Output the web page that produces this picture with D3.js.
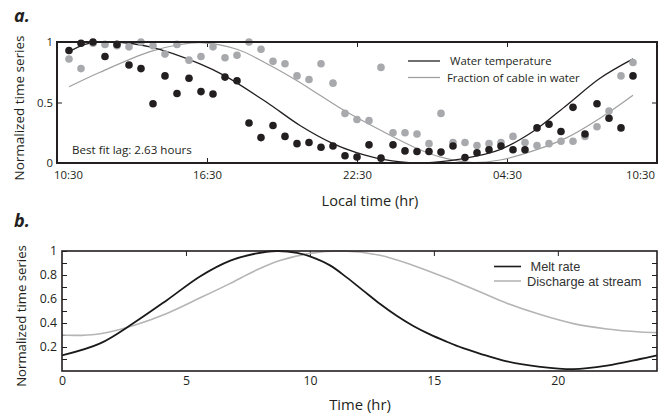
<!DOCTYPE html>
<html>
<head>
<meta charset="utf-8">
<script src="https://cdn.jsdelivr.net/npm/d3@7"></script>
<style>
  body { margin: 0; background: #fff; }
  svg { display: block; font-family: "Open Sans", sans-serif; }
</style>
</head>
<body>
<svg id="fig" width="661" height="416"></svg>
<script>
// ---- Panel a: observations, hours after 10:30 local time ----
const obsHours = [0.48, 0.96, 1.44, 1.92, 2.40, 2.88, 3.36, 3.84, 4.32, 4.80, 5.28, 5.76,
  6.24, 6.72, 7.20, 7.68, 8.16, 8.64, 9.12, 9.60, 10.08, 10.56, 11.04, 11.52,
  12.00, 12.48, 12.96, 13.44, 13.92, 14.40, 14.88, 15.36, 15.84, 16.32, 16.80, 17.28,
  17.76, 18.24, 18.72, 19.20, 19.68, 20.16, 20.64, 21.12, 21.60, 22.08, 22.56, 23.04];

const waterTemp = [0.93, 0.99, 1.00, 0.88, 0.98, 0.81, 0.78, 0.49, 0.72, 0.575, 0.70, 0.59,
  0.57, 0.71, 0.68, 0.33, 0.21, 0.31, 0.22, 0.16, 0.17, 0.13, 0.14, 0.06,
  0.05, 0.15, 0.04, 0.15, 0.10, 0.095, 0.095, 0.09, 0.14, 0.045, 0.085, 0.11,
  0.14, 0.11, 0.11, 0.29, 0.32, 0.26, 0.46, 0.24, 0.49, 0.37, 0.29, 0.72];

const cableFraction = [0.86, 0.78, 0.99, 0.98, 0.97, 0.96, 1.00, 0.97, 0.90, 0.98, 0.85, 0.88,
  0.96, 0.87, 0.89, 1.00, 0.94, 0.84, 0.82, 0.72, 0.69, 0.82, 0.66, 0.41,
  0.36, 0.35, 0.79, 0.25, 0.25, 0.24, 0.16, 0.41, 0.17, 0.17, 0.145, 0.16,
  0.17, 0.22, 0.17, 0.145, 0.16, 0.18, 0.18, 0.22, 0.30, 0.43, 0.72, 0.83];

// Fitted diurnal curves
const waterFitHours = [0.48, 1.2, 2.24, 3.72, 5.72, 6.72, 8.4, 9.72, 11.04, 11.92, 13.04, 14.4,
  15.72, 17.04, 17.72, 19.04, 20.4, 21.72, 23.04];
const waterFit = [0.92, 0.985, 1.0, 0.96, 0.82, 0.72, 0.50, 0.31, 0.16, 0.09, 0.03, 0.0,
  0.02, 0.07, 0.11, 0.26, 0.48, 0.70, 0.86];

const cableFitHours = [0.48, 1.72, 3.72, 4.8, 5.72, 7.2, 8.4, 9.6, 10.52, 11.44, 13.04, 14.4,
  15.32, 16.52, 17.72, 19.04, 20.4, 21.72, 23.04];
const cableFit = [0.63, 0.75, 0.92, 0.975, 0.995, 0.94, 0.82, 0.68, 0.56, 0.44, 0.26, 0.12,
  0.05, 0.005, 0.025, 0.10, 0.21, 0.37, 0.56];

const localTickHours = [0, 6, 12, 18, 24];
const localTickLabels = ["10:30", "16:30", "22:30", "04:30", "10:30"];
const aYTicks = [0, 0.5, 1];

// ---- Panel b: modelled melt and discharge ----
const meltHours = [0, 1.54, 2.89, 4.23, 5.58, 6.79, 7.73, 8.67, 9.48, 10.0, 10.81, 11.48,
  12.15, 12.82, 13.5, 14.17, 14.84, 15.51, 16.18, 16.85, 17.94, 19.29, 20.63, 21.98, 23.32, 24];
const meltRate = [0.13, 0.23, 0.40, 0.59, 0.79, 0.92, 0.975, 1.0, 0.985, 0.955, 0.88, 0.78,
  0.67, 0.56, 0.46, 0.375, 0.305, 0.245, 0.19, 0.145, 0.08, 0.035, 0.015, 0.045, 0.10, 0.13];

const dischargeHours = [0, 0.8, 1.54, 2.89, 4.23, 5.58, 6.79, 7.73, 8.79, 10.0, 11.35, 12.82,
  14.17, 15.51, 16.85, 17.94, 19.29, 20.63, 21.98, 23.32, 24];
const discharge = [0.30, 0.297, 0.31, 0.38, 0.48, 0.61, 0.73, 0.83, 0.92, 0.98, 1.0, 0.965,
  0.88, 0.775, 0.66, 0.565, 0.47, 0.395, 0.35, 0.325, 0.32];

const bXTicks = [0, 5, 10, 15, 20];
const bYTicks = [0.1, 0.2, 0.3, 0.4, 0.5, 0.6, 0.7, 0.8, 0.9, 1];
const bYLabels = ["", "0.2", "", "0.4", "", "0.6", "", "0.8", "", "1"];

const INK = "#231f20";
const GREY_PT = "#a7a9ac";
const svg = d3.select("#fig");

function styleAxis(g, size) {
  g.select(".domain").remove();
  g.selectAll(".tick line").attr("stroke", INK).attr("stroke-width", 1);
  g.selectAll(".tick text").attr("fill", INK).attr("font-size", size)
    .attr("font-family", "'Open Sans', sans-serif");
}

// ================= Panel a =================
const xa = d3.scaleLinear([0, 24], [57, 657]);
const ya = d3.scaleLinear([0, 1], [163, 42]);
const pa = svg.append("g");

pa.append("g").attr("transform", "translate(0,163)")
  .call(d3.axisBottom(xa).tickValues(localTickHours)
    .tickFormat((d, i) => localTickLabels[i]).tickSize(-5).tickPadding(8))
  .call(g => styleAxis(g, 11.3))
  .call(g => {
    const t = g.selectAll(".tick text");
    t.filter((d, i) => i === 0).attr("dx", 11);
    t.filter((d, i) => i === localTickHours.length - 1).attr("dx", -17);
    g.selectAll(".tick line").filter((d, i) => i === 0 || i === localTickHours.length - 1).remove();
  });

pa.append("g").attr("transform", "translate(0,42)")
  .call(d3.axisTop(xa).tickValues(localTickHours.slice(1, -1)).tickFormat("").tickSize(-5))
  .call(g => styleAxis(g, 11));

pa.append("g").attr("transform", "translate(57,0)")
  .call(d3.axisLeft(ya).tickValues(aYTicks).tickFormat(d3.format("~g")).tickSize(-5).tickPadding(4))
  .call(g => styleAxis(g, 11.3))
  .call(g => g.selectAll(".tick line").filter(d => d === 0 || d === 1).remove());

pa.append("g").attr("transform", "translate(657,0)")
  .call(d3.axisRight(ya).tickValues([0.5]).tickFormat("").tickSize(-5))
  .call(g => styleAxis(g, 11));

// fitted curves
const lineA = (hrs) => d3.line().x((d, i) => xa(hrs[i])).y(d => ya(d)).curve(d3.curveCatmullRom.alpha(0.5));
pa.append("path").datum(cableFit).attr("d", lineA(cableFitHours))
  .attr("fill", "none").attr("stroke", "#a0a0a0").attr("stroke-width", 1.2);
pa.append("path").datum(waterFit).attr("d", lineA(waterFitHours))
  .attr("fill", "none").attr("stroke", INK).attr("stroke-width", 1.3);

// observed points
pa.append("g").selectAll("circle").data(cableFraction).join("circle")
  .attr("cx", (d, i) => xa(obsHours[i])).attr("cy", d => ya(d)).attr("r", 3.8)
  .attr("fill", GREY_PT);
pa.append("g").selectAll("circle").data(waterTemp).join("circle")
  .attr("cx", (d, i) => xa(obsHours[i])).attr("cy", d => ya(d)).attr("r", 3.8)
  .attr("fill", INK);

// frame
pa.append("rect").attr("x", xa(0)).attr("y", ya(1)).attr("width", xa(24) - xa(0))
  .attr("height", ya(0) - ya(1)).attr("fill", "none").attr("stroke", INK).attr("stroke-width", 2);

// legend
const legA = [
  { label: "Water temperature", color: INK, y: 61, tx: 450 },
  { label: "Fraction of cable in water", color: "#a0a0a0", y: 77.5, tx: 447 }
];
legA.forEach(l => {
  pa.append("line").attr("x1", 408).attr("x2", 440).attr("y1", l.y).attr("y2", l.y)
    .attr("stroke", l.color).attr("stroke-width", 1.3);
  pa.append("text").attr("x", l.tx).attr("y", l.y + 4).attr("font-size", 11.3)
    .attr("fill", INK).text(l.label);
});

pa.append("text").attr("x", 72).attr("y", 153.5).attr("font-size", 11.6).attr("fill", INK)
  .text("Best fit lag: 2.63 hours");

pa.append("text").attr("x", 370).attr("y", 205.5).attr("text-anchor", "middle")
  .attr("font-size", 14.6).attr("fill", INK).text("Local time (hr)");

pa.append("text").attr("transform", "translate(24,108) rotate(-90)")
  .attr("text-anchor", "middle").attr("font-size", 13.5).attr("fill", INK)
  .text("Normalized time series");

pa.append("text").attr("x", 14).attr("y", 22).attr("font-size", 18)
  .attr("font-weight", "bold").attr("font-style", "italic").attr("fill", INK).text("a.");

// ================= Panel b =================
const xb = d3.scaleLinear([0, 24], [62, 657]);
const yb = d3.scaleLinear([0, 1], [371, 251]);
const pb = svg.append("g");

pb.append("g").attr("transform", "translate(0,371)")
  .call(d3.axisBottom(xb).tickValues(bXTicks).tickFormat(d3.format("d")).tickSize(0).tickPadding(5))
  .call(g => styleAxis(g, 12.3));

pb.append("g").attr("transform", "translate(0,251)")
  .call(d3.axisTop(xb).tickValues(bXTicks.slice(1)).tickFormat("").tickSize(-5))
  .call(g => styleAxis(g, 12));

pb.append("g").attr("transform", "translate(62,0)")
  .call(d3.axisLeft(yb).tickValues(bYTicks).tickFormat((d, i) => bYLabels[i]).tickSize(-5).tickPadding(5))
  .call(g => styleAxis(g, 12.3));

pb.append("g").attr("transform", "translate(657,0)")
  .call(d3.axisRight(yb).tickValues(bYTicks.slice(0, -1)).tickFormat("").tickSize(-5))
  .call(g => styleAxis(g, 12));

const lineB = (hrs) => d3.line().x((d, i) => xb(hrs[i])).y(d => yb(d)).curve(d3.curveCatmullRom.alpha(0.5));
pb.append("path").datum(discharge).attr("d", lineB(dischargeHours))
  .attr("fill", "none").attr("stroke", "#b5b5b5").attr("stroke-width", 1.6);
pb.append("path").datum(meltRate).attr("d", lineB(meltHours))
  .attr("fill", "none").attr("stroke", "#1a1a1a").attr("stroke-width", 1.8);

pb.append("rect").attr("x", xb(0)).attr("y", yb(1)).attr("width", xb(24) - xb(0))
  .attr("height", yb(0) - yb(1)).attr("fill", "none").attr("stroke", INK).attr("stroke-width", 1.6);

const legB = [
  { label: "Melt rate", color: "#1a1a1a", y: 266.5, tx: 530.5 },
  { label: "Discharge at stream", color: "#b5b5b5", y: 281, tx: 527 }
];
legB.forEach(l => {
  pb.append("line").attr("x1", 494).attr("x2", 521).attr("y1", l.y).attr("y2", l.y)
    .attr("stroke", l.color).attr("stroke-width", 1.6);
  pb.append("text").attr("x", l.tx).attr("y", l.y + 4.6).attr("font-size", 12.8)
    .attr("font-family", "'Liberation Sans', Arial, sans-serif").attr("fill", "#333").text(l.label);
});

pb.append("text").attr("x", 360).attr("y", 410).attr("text-anchor", "middle")
  .attr("font-size", 14.8).attr("fill", INK).text("Time (hr)");

pb.append("text").attr("transform", "translate(26,316) rotate(-90)")
  .attr("text-anchor", "middle").attr("font-size", 13.2).attr("fill", INK)
  .text("Normalized time series");

pb.append("text").attr("x", 14).attr("y", 226.5).attr("font-size", 18)
  .attr("font-weight", "bold").attr("font-style", "italic").attr("fill", INK).text("b.");
</script>
</body>
</html>
